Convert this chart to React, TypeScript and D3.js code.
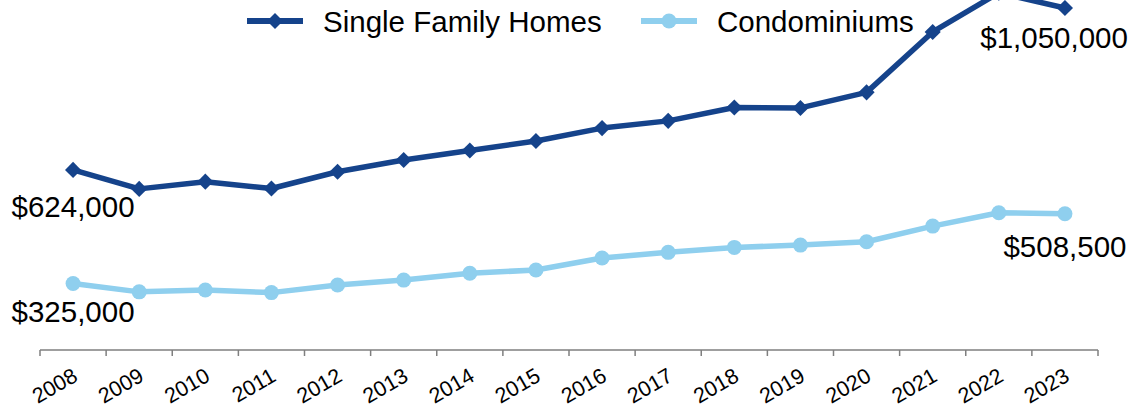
import React from 'react';
import * as d3 from 'd3';

// median sale prices by year
const years = ['2008', '2009', '2010', '2011', '2012', '2013', '2014', '2015',
  '2016', '2017', '2018', '2019', '2020', '2021', '2022', '2023'];
const singleFamily = [624000, 574000, 593000, 575000, 619000, 650000, 675000, 700000,
  734000, 753000, 788000, 787000, 828000, 987000, 1090000, 1050000];
const condos = [325000, 303000, 308000, 301000, 321000, 334000, 352000, 360500,
  392000, 407000, 420000, 426000, 435000, 476000, 511000, 508500];
const seriesNames = ['Single Family Homes', 'Condominiums'];

const width = 1135;
const height = 408;
const dark = '#15438b';
const light = '#8fcfee';
const axisGray = '#7f7f7f';
const font = '"Liberation Sans", Arial, sans-serif';

const App = () => {
  // scales: axis baseline sits at 150k, top of chart runs past the frame
  const xScale = d3.scaleBand().domain(years).range([40, 1098]);
  const bw = xScale.bandwidth();
  const cx = (i: number) => (xScale(years[i]) as number) + bw / 2;
  const yScale = d3.scaleLinear().domain([150000, 1100000]).range([350, -11]);
  const axisY = yScale(150000);

  const linePlot = d3.line<number>()
    .x((d, i) => cx(i))
    .y(d => yScale(d));

  const diamond = d3.symbol().type(d3.symbolSquare).size(130);

  const tickXs = [...years.map(yr => xScale(yr) as number), xScale.range()[1]];

  const last = years.length - 1;
  // data labels at first and last points
  const labels = [
    { x: cx(0), y: yScale(singleFamily[0]) + 47, text: '$624,000', anchor: 'middle' },
    { x: cx(0), y: yScale(condos[0]) + 38.5, text: '$325,000', anchor: 'middle' },
    { x: cx(last) + 63, y: yScale(singleFamily[last]) + 40, text: '$1,050,000', anchor: 'end' },
    { x: cx(last), y: yScale(condos[last]) + 43, text: '$508,500', anchor: 'middle' },
  ];

  return (
    <svg
      width={width}
      height={height}
      viewBox={`0 0 ${width} ${height}`}
      style={{ position: 'absolute', left: 0, top: 0, display: 'block', overflow: 'hidden', background: '#fff' }}
      fontFamily={font}
    >
      {/* x axis */}
      <line x1={40} x2={1098} y1={axisY} y2={axisY} stroke={axisGray} strokeWidth={1.5} />
      {tickXs.map((tx, i) => (
        <line key={i} x1={tx} x2={tx} y1={axisY} y2={axisY + 6} stroke={axisGray} strokeWidth={1.5} />
      ))}
      {years.map((yr, i) => (
        <text key={yr} transform={`translate(${cx(i) + 6},${axisY + 30}) rotate(-30)`}
          textAnchor='end' fontSize={21.5} fill='#000'>{yr}</text>
      ))}

      {/* condos */}
      <path d={linePlot(condos) || ''} fill='none' stroke={light} strokeWidth={5.5} strokeLinejoin='round' />
      {condos.map((v, i) => (
        <circle key={i} cx={cx(i)} cy={yScale(v)} r={7.5} fill={light} />
      ))}

      {/* single family */}
      <path d={linePlot(singleFamily) || ''} fill='none' stroke={dark} strokeWidth={5.5} strokeLinejoin='round' />
      {singleFamily.map((v, i) => (
        <path key={i} d={diamond() || ''} transform={`translate(${cx(i)},${yScale(v)}) rotate(45)`} fill={dark} />
      ))}

      {labels.map(l => (
        <text key={l.text} x={l.x} y={l.y} textAnchor={l.anchor} fontSize={29.5} fill='#000'>{l.text}</text>
      ))}

      {/* legend */}
      <g>
        <line x1={247} x2={303} y1={21} y2={21} stroke={dark} strokeWidth={6} />
        <path d={diamond() || ''} transform='translate(275,21) rotate(45)' fill={dark} />
        <text x={323} y={31.5} fontSize={29.5} fill='#000'>{seriesNames[0]}</text>
        <line x1={641} x2={697} y1={21} y2={21} stroke={light} strokeWidth={6} />
        <circle cx={669} cy={21} r={7.5} fill={light} />
        <text x={717} y={31.5} fontSize={29.5} fill='#000'>{seriesNames[1]}</text>
      </g>
    </svg>
  );
};

export default App;
